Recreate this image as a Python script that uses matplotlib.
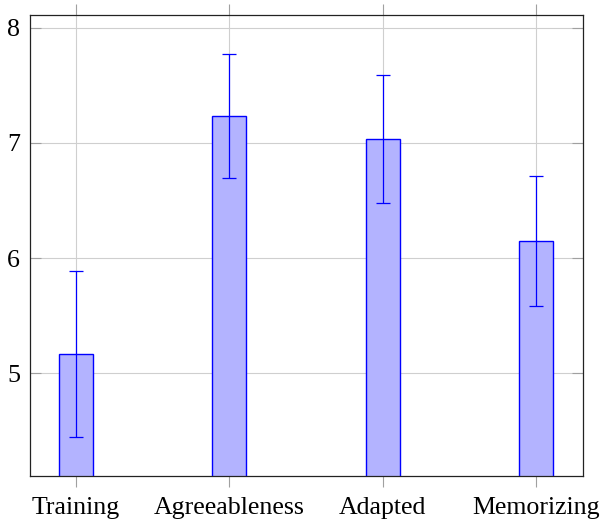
import matplotlib
matplotlib.use("Agg")
import matplotlib.pyplot as plt
import numpy as np

categories = ["Training", "Agreeableness", "Adapted", "Memorizing"]
means = [5.165, 7.233, 7.035, 6.148]
errors = [0.722, 0.536, 0.556, 0.565]
yticks = [5, 6, 7, 8]

plt.rcParams['font.family'] = ['Liberation Serif', 'DejaVu Serif']
plt.rcParams['mathtext.fontset'] = 'stix'

fig = plt.figure(figsize=(6.02, 5.25), dpi=100)
ax = fig.add_axes([0.0493, 0.0933, 0.9191, 0.8776])

x = np.arange(len(categories))
ax.bar(x, means, width=0.222, color='#b3b3ff', edgecolor='#0000ff', linewidth=1.0, zorder=2)
ax.errorbar(x, means, yerr=errors, fmt='none', ecolor='#0000ff', elinewidth=0.9,
            capsize=5.2, capthick=0.9, zorder=3)

ax.set_xlim(-0.302, 3.307)
ax.set_ylim(4.107, 8.108)
ax.set_xticks(x)
ax.set_xticklabels(categories)
ax.set_yticks(yticks)
ax.set_yticklabels([str(t) for t in yticks])

ax.grid(True, color='#cfcfcf', linewidth=0.8)
ax.set_axisbelow(True)

ax.tick_params(axis='x', direction='out', top=True, bottom=True, length=7.8,
               width=0.8, color='#a0a0a0', labelsize=18.6, pad=7.5)
ax.tick_params(axis='y', direction='in', left=True, right=True, length=7.8,
               width=0.8, color='#a0a0a0', labelsize=18.6, pad=7)

for s in ax.spines.values():
    s.set_color('#222222')
    s.set_linewidth(0.9)

fig.savefig("out.png", dpi=100)
